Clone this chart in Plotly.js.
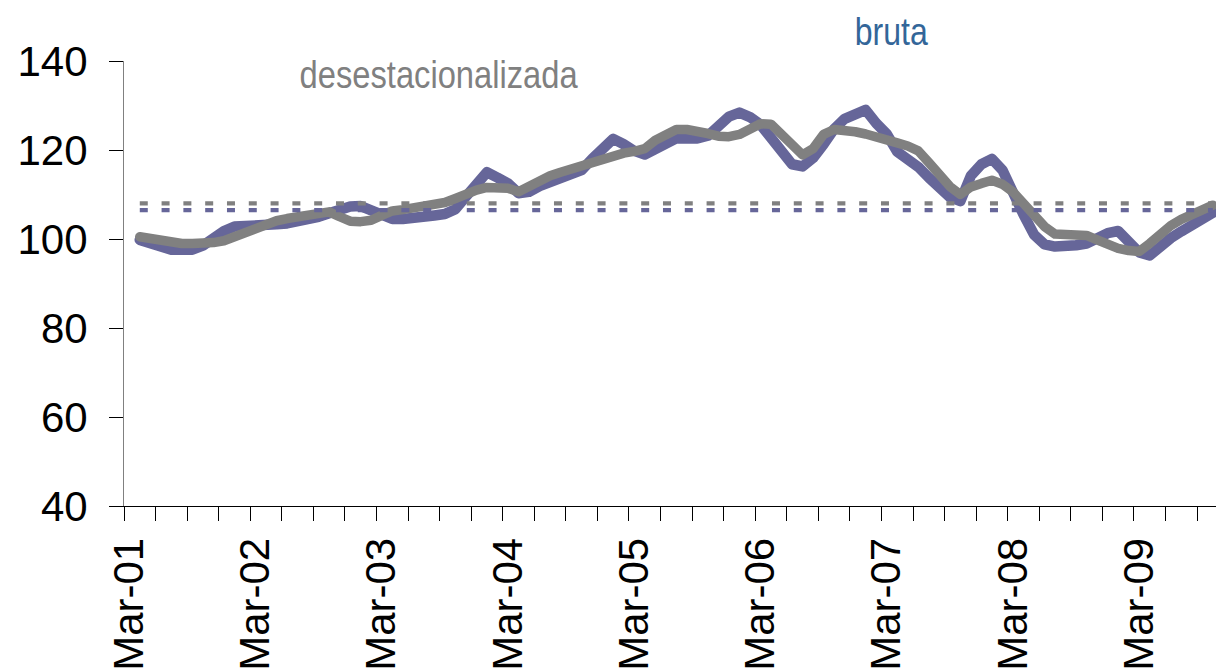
<!DOCTYPE html>
<html>
<head>
<meta charset="utf-8">
<script src="https://cdn.plot.ly/plotly-3.0.1.min.js"></script>
<style>
html,body{margin:0;padding:0;background:#fff;}
#chart{width:1216px;height:669px;}
.scatterlayer .trace:nth-child(1) .js-line,
.scatterlayer .trace:nth-child(2) .js-line{stroke-linejoin:round !important;stroke-linecap:round !important;}
</style>
</head>
<body>
<div id="chart"></div>
<script>
// Monthly index series, first category = Mar-01 (no value), last = Oct-09
const bruta = [null,
 99.8, 99.0, 98.2, 97.6, 97.6, 97.6, 98.5, 100.2, 101.8, 102.8, 102.8,
 102.9, 103.1, 103.3, 103.5, 103.9, 104.4, 105.0, 105.8, 106.6, 107.3, 107.4, 106.3,
 105.2, 104.5, 104.5, 104.6, 105.0, 105.3, 105.6, 106.7, 109.5, 112.4, 115.0, 113.8,
 112.5, 110.3, 110.6, 111.9, 112.8, 113.7, 114.6, 115.5, 118.0, 120.5, 122.5, 121.3,
 119.8, 119.0, 120.2, 121.5, 122.6, 122.6, 122.6, 123.2, 125.3, 127.5, 128.4, 127.4,
 125.7, 123.0, 119.6, 116.8, 116.3, 118.2, 121.3, 124.7, 127.0, 128.2, 129.0, 126.0,
 123.6, 119.6, 118.0, 116.2, 113.8, 111.2, 109.4, 108.5, 114.2, 116.8, 118.0, 115.5,
 111.1, 105.5, 101.0, 98.8, 98.3, 98.3, 98.6, 99.0, 100.2, 101.3, 101.8, 99.3,
 97.0, 96.3, 98.5, 100.2, 101.7, 103.2, 104.6, 105.9];

const desestacionalizada = [null,
 100.5, 100.0, 99.5, 99.1, 99.0, 99.0, 99.0, 99.2, 99.6, 100.5, 101.6,
 102.8, 103.7, 104.1, 104.6, 105.1, 105.6, 106.0, 106.1, 105.0, 104.0, 103.9, 104.2,
 105.3, 106.3, 106.6, 106.9, 107.2, 107.6, 108.2, 109.1, 110.2, 111.0, 111.6, 111.6,
 111.4, 110.6, 112.0, 113.4, 114.2, 115.0, 115.8, 116.6, 117.4, 118.1, 118.8, 119.3,
 119.7, 120.3, 122.2, 123.7, 124.6, 124.6, 124.4, 123.7, 123.1, 123.0, 123.5, 125.0,
 125.9, 125.8, 123.6, 120.8, 118.9, 120.3, 123.5, 124.6, 124.5, 124.1, 123.6, 123.1,
 122.3, 121.6, 120.9, 119.8, 117.2, 114.2, 111.8, 110.0, 111.7, 112.5, 113.2, 112.3,
 110.6, 108.0, 105.0, 102.8, 101.1, 100.9, 100.9, 100.8, 99.8, 98.7, 97.9, 97.4,
 97.2, 99.0, 101.3, 103.0, 104.4, 105.6, 106.7, 107.6];

// Average levels (dotted reference lines)
const mediaBruta = [106.5];
const mediaDesest = [108.0];

// Axis labels
const tickLabels = ['Mar-01','Mar-02','Mar-03','Mar-04','Mar-05','Mar-06','Mar-07','Mar-08','Mar-09'];
const yTicks = [40, 60, 80, 100, 120, 140];
const seriesNames = ['bruta', 'desestacionalizada'];

const monthIdx = bruta.map((_, i) => i);
const tickIdx = tickLabels.map((_, k) => k * 12);
const firstIdx = bruta.findIndex(v => v !== null);
const lastIdx = bruta.length - 1;

const BLUE = '#666699';
const GREY = '#808080';

const traces = [
  {x: monthIdx, y: bruta, type: 'scatter', mode: 'lines', name: seriesNames[0],
   line: {color: BLUE, width: 10.5}, hoverinfo: 'skip'},
  {x: monthIdx, y: desestacionalizada, type: 'scatter', mode: 'lines', name: seriesNames[1],
   line: {color: GREY, width: 9.5}, hoverinfo: 'skip'},
  {x: [firstIdx, lastIdx], y: [mediaBruta[0], mediaBruta[0]], type: 'scatter', mode: 'lines',
   line: {color: BLUE, width: 4.3, dash: '8px,13.8px'}, hoverinfo: 'skip'},
  {x: [firstIdx, lastIdx], y: [mediaDesest[0], mediaDesest[0]], type: 'scatter', mode: 'lines',
   line: {color: GREY, width: 4.3, dash: '8px,13.8px'}, hoverinfo: 'skip'}
];

const tickFont = {family: 'Liberation Sans, Arial, sans-serif', size: 42, color: '#000'};
const noteFont = 'Liberation Sans, Arial, sans-serif';

const layout = {
  width: 1216, height: 669,
  margin: {l: 124, r: 0, t: 61, b: 163, pad: 0},
  paper_bgcolor: '#fff', plot_bgcolor: '#fff',
  showlegend: false,
  xaxis: {
    range: [-0.5, 103.3], showgrid: false, zeroline: false,
    showline: true, linecolor: '#000', linewidth: 1,
    tickmode: 'array', tickvals: tickIdx, ticktext: tickLabels,
    tickangle: -90, ticks: 'outside', ticklen: 14, tickcolor: 'rgba(0,0,0,0)',
    tickfont: tickFont,
    minor: {tickmode: 'linear', tick0: -0.5, dtick: 3, ticks: 'outside', ticklen: 14,
            tickcolor: '#000', tickwidth: 1, showgrid: false}
  },
  yaxis: {
    range: [40, 140], showgrid: false, zeroline: false,
    showline: true, linecolor: '#808080', linewidth: 1,
    tickmode: 'array', tickvals: yTicks, ticks: 'outside', ticklen: 14,
    tickcolor: '#000', tickwidth: 1, tickfont: tickFont, ticklabelstandoff: 13
  },
  annotations: [
    {text: seriesNames[1], xref: 'paper', yref: 'paper', x: 0.2885, y: 0.9685,
     xanchor: 'center', yanchor: 'middle', showarrow: false,
     font: {family: noteFont, size: 38, color: GREY}},
    {text: seriesNames[0], xref: 'paper', yref: 'paper', x: 0.703, y: 1.065,
     xanchor: 'center', yanchor: 'middle', showarrow: false,
     font: {family: noteFont, size: 38, color: '#336699'}}
  ]
};

// condensed look of the labels (reference uses a narrow face)
const noteWidths = {'desestacionalizada': 278, 'bruta': 73};

Plotly.newPlot('chart', traces, layout, {displayModeBar: false, staticPlot: true}).then(gd => {
  gd.querySelectorAll('.annotation-text').forEach(t => {
    const w = noteWidths[t.textContent];
    if (w) {
      t.setAttribute('textLength', w);
      t.setAttribute('lengthAdjust', 'spacingAndGlyphs');
    }
  });
});
</script>
</body>
</html>
